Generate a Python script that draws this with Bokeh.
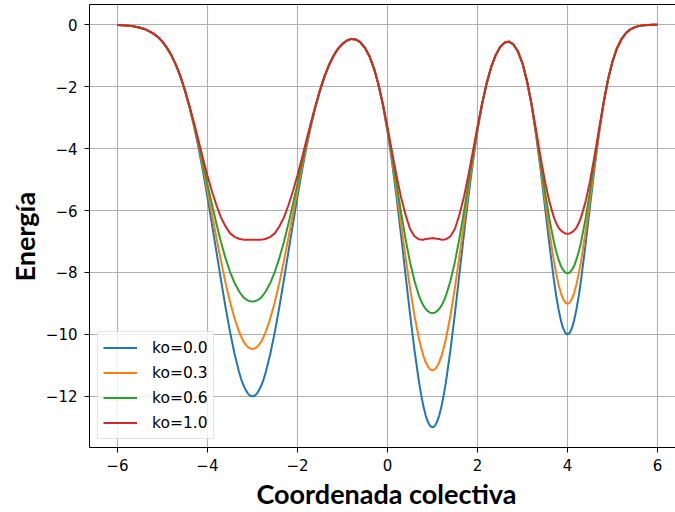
from bokeh.plotting import figure
from bokeh.models import (Range1d, FixedTicker, CustomJSTickFormatter, Legend, LegendItem,
                          LinearAxis, Title)
from bokeh.embed import file_html
from bokeh.resources import INLINE

# Collective coordinate: -6 .. 6 every 0.1, plus a few extra samples at the well bottoms
x_base = [round(-6 + i * 0.1, 1) for i in range(121)]
x_extra = [-3.25, -3.15, -3.05, -2.95, -2.85, -2.75,
           0.75, 0.85, 0.95, 1.05, 1.15, 1.25,
           3.75, 3.85, 3.95, 4.05, 4.15, 4.25]
x = sorted(x_base + x_extra)

ko_labels = ["ko=0.0", "ko=0.3", "ko=0.6", "ko=1.0"]

e_ko00 = [-0.01, -0.02, -0.03, -0.04, -0.07, -0.10, -0.14, -0.21, -0.29, -0.40,
          -0.55, -0.75, -0.99, -1.30, -1.67, -2.13, -2.66, -3.27, -3.96, -4.73,
          -5.56, -6.44, -7.33, -8.23, -9.10, -9.90, -10.61,
          -11.20, -11.44, -11.64, -11.79, -11.91, -11.98, -12.00, -11.98, -11.91, -11.79,
          -11.64, -11.44, -11.20,
          -10.61, -9.90, -9.10, -8.23, -7.33, -6.44, -5.56, -4.73, -3.96, -3.27,
          -2.66, -2.13, -1.68, -1.31, -1.01, -0.78, -0.62, -0.51, -0.46, -0.48,
          -0.57, -0.75, -1.02, -1.41, -1.93, -2.61, -3.44, -4.42, -5.54, -6.77,
          -8.05, -9.32, -10.50,
          -11.53, -11.96, -12.33, -12.62, -12.83, -12.96, -13.00, -12.96, -12.83, -12.62,
          -12.32, -11.96, -11.53,
          -10.50, -9.31, -8.04, -6.76, -5.54, -4.42, -3.43, -2.59, -1.92, -1.39,
          -1.00, -0.73, -0.58, -0.55, -0.64, -0.87, -1.25, -1.82, -2.58, -3.54,
          -4.65, -5.88, -7.12,
          -8.26, -8.76, -9.18, -9.53, -9.79, -9.95, -10.00, -9.95, -9.79, -9.53,
          -9.18, -8.76, -8.26,
          -7.11, -5.87, -4.65, -3.53, -2.56, -1.78, -1.19, -0.76, -0.47, -0.27,
          -0.15, -0.08, -0.04, -0.02, -0.01, -0.00, -0.00]

e_ko03 = [-0.01, -0.02, -0.03, -0.04, -0.07, -0.10, -0.14, -0.21, -0.29, -0.40,
          -0.55, -0.75, -0.99, -1.30, -1.67, -2.13, -2.65, -3.24, -3.89, -4.60,
          -5.35, -6.12, -6.88, -7.62, -8.32, -8.94, -9.47,
          -9.90, -10.07, -10.22, -10.33, -10.41, -10.45, -10.47, -10.45, -10.41, -10.33,
          -10.22, -10.07, -9.90,
          -9.47, -8.94, -8.32, -7.62, -6.88, -6.12, -5.35, -4.60, -3.89, -3.24,
          -2.65, -2.13, -1.68, -1.31, -1.01, -0.78, -0.62, -0.51, -0.46, -0.48,
          -0.57, -0.75, -1.02, -1.41, -1.93, -2.60, -3.40, -4.32, -5.34, -6.41,
          -7.47, -8.49, -9.39,
          -10.14, -10.44, -10.70, -10.90, -11.04, -11.13, -11.16, -11.13, -11.04, -10.90,
          -10.69, -10.44, -10.14,
          -9.39, -8.48, -7.47, -6.40, -5.33, -4.32, -3.39, -2.58, -1.92, -1.39,
          -1.00, -0.73, -0.58, -0.55, -0.64, -0.87, -1.25, -1.82, -2.57, -3.50,
          -4.53, -5.63, -6.70,
          -7.65, -8.04, -8.38, -8.65, -8.85, -8.97, -9.01, -8.97, -8.85, -8.65,
          -8.38, -8.04, -7.65,
          -6.70, -5.63, -4.53, -3.49, -2.55, -1.78, -1.19, -0.76, -0.47, -0.27,
          -0.15, -0.08, -0.04, -0.02, -0.01, -0.00, -0.00]

e_ko06 = [-0.01, -0.02, -0.03, -0.04, -0.07, -0.10, -0.14, -0.21, -0.29, -0.40,
          -0.55, -0.75, -0.99, -1.30, -1.67, -2.12, -2.64, -3.20, -3.82, -4.48,
          -5.15, -5.80, -6.43, -7.01, -7.53, -7.97, -8.33,
          -8.60, -8.71, -8.80, -8.86, -8.90, -8.93, -8.94, -8.93, -8.90, -8.86,
          -8.80, -8.71, -8.60,
          -8.33, -7.97, -7.53, -7.01, -6.43, -5.80, -5.15, -4.48, -3.82, -3.21,
          -2.64, -2.12, -1.68, -1.31, -1.01, -0.78, -0.62, -0.51, -0.46, -0.48,
          -0.57, -0.75, -1.02, -1.41, -1.93, -2.59, -3.36, -4.22, -5.13, -6.04,
          -6.90, -7.66, -8.27,
          -8.75, -8.93, -9.07, -9.18, -9.25, -9.30, -9.31, -9.30, -9.25, -9.18,
          -9.07, -8.93, -8.75,
          -8.27, -7.65, -6.89, -6.04, -5.13, -4.22, -3.35, -2.57, -1.92, -1.39,
          -1.00, -0.73, -0.58, -0.55, -0.64, -0.87, -1.25, -1.82, -2.56, -3.45,
          -4.42, -5.39, -6.29,
          -7.03, -7.33, -7.58, -7.78, -7.91, -8.00, -8.03, -8.00, -7.91, -7.78,
          -7.58, -7.33, -7.03,
          -6.28, -5.38, -4.41, -3.44, -2.54, -1.78, -1.19, -0.76, -0.47, -0.27,
          -0.15, -0.08, -0.04, -0.02, -0.01, -0.00, -0.00]

e_ko10 = [-0.01, -0.02, -0.03, -0.04, -0.07, -0.10, -0.14, -0.21, -0.29, -0.40,
          -0.55, -0.75, -0.99, -1.30, -1.67, -2.12, -2.62, -3.16, -3.73, -4.31,
          -4.87, -5.38, -5.83, -6.22, -6.51, -6.73, -6.85,
          -6.91, -6.93, -6.94, -6.94, -6.94, -6.94, -6.94, -6.94, -6.94, -6.94,
          -6.94, -6.93, -6.91,
          -6.85, -6.73, -6.51, -6.22, -5.83, -5.38, -4.87, -4.31, -3.73, -3.17,
          -2.62, -2.12, -1.68, -1.31, -1.01, -0.78, -0.62, -0.51, -0.46, -0.48,
          -0.57, -0.75, -1.02, -1.41, -1.93, -2.58, -3.31, -4.09, -4.86, -5.56,
          -6.13, -6.59, -6.83,
          -6.93, -6.94, -6.94, -6.92, -6.91, -6.90, -6.89, -6.90, -6.91, -6.92,
          -6.94, -6.94, -6.93,
          -6.83, -6.59, -6.13, -5.56, -4.85, -4.08, -3.30, -2.56, -1.92, -1.39,
          -1.00, -0.73, -0.58, -0.55, -0.64, -0.87, -1.25, -1.82, -2.55, -3.39,
          -4.26, -5.06, -5.73,
          -6.23, -6.41, -6.55, -6.64, -6.70, -6.74, -6.75, -6.74, -6.70, -6.64,
          -6.55, -6.41, -6.23,
          -5.73, -5.06, -4.25, -3.38, -2.53, -1.78, -1.19, -0.76, -0.47, -0.27,
          -0.15, -0.08, -0.04, -0.02, -0.01, -0.00, -0.00]

for s in (e_ko00, e_ko03, e_ko06, e_ko10):
    assert len(s) == len(x), (len(s), len(x))

x_ticks = [-6, -4, -2, 0, 2, 4, 6]
y_ticks = [0, -2, -4, -6, -8, -10, -12]

colors = ["#1f77b4", "#ff7f0e", "#2ca02c", "#d62728"]

p = figure(width=675, height=512, output_backend="svg", toolbar_location=None,
           x_range=Range1d(-6.62, 6.40), y_range=Range1d(-13.65, 0.65),
           min_border_left=89, min_border_right=0, min_border_top=4,
           min_border_bottom=65, background_fill_color="white",
           border_fill_color="white")
p.outline_line_color = None

minus_fmt = "return (tick < 0 ? '\\u2212' : '') + Math.abs(tick).toString();"

for ax, ticks in ((p.xaxis[0], x_ticks), (p.yaxis[0], y_ticks)):
    ax.ticker = FixedTicker(ticks=ticks)
    ax.formatter = CustomJSTickFormatter(code=minus_fmt)
    ax.major_label_text_font = "DejaVu Sans"
    ax.major_label_text_font_size = "15px"
    ax.major_label_text_color = "#000000"
    ax.major_tick_out = 5
    ax.major_tick_in = 0
    ax.minor_tick_out = 0
    ax.minor_tick_in = 0
    ax.major_tick_line_color = "#000000"
    ax.axis_line_color = "#000000"
    ax.axis_line_width = 1

p.xaxis[0].major_label_standoff = 6
p.yaxis[0].major_label_standoff = 7

top = LinearAxis(major_tick_out=0, major_tick_in=0, minor_tick_out=0, minor_tick_in=0,
                 major_label_text_font_size="0px", axis_line_color="#000000",
                 ticker=FixedTicker(ticks=[]))
p.add_layout(top, "above")

xlab = Title(text="Coordenada colectiva", align="left", offset=167,
             text_font="Lato", text_font_style="bold", text_font_size="27px",
             text_color="#000000", standoff=2)
ylab = Title(text="Energía", align="left", offset=166,
             text_font="Lato", text_font_style="bold", text_font_size="27px",
             text_color="#000000", standoff=4)
p.add_layout(xlab, "below")
p.add_layout(ylab, "left")

p.xgrid.ticker = FixedTicker(ticks=x_ticks)
p.ygrid.ticker = FixedTicker(ticks=y_ticks)
p.grid.grid_line_color = "#b0b0b0"
p.grid.grid_line_width = 1.1

items = []
for ys, c, lab in zip([e_ko00, e_ko03, e_ko06, e_ko10], colors, ko_labels):
    r = p.line(x, ys, line_color=c, line_width=2, line_join="round")
    items.append(LegendItem(label=lab, renderers=[r]))

legend = Legend(items=items, location=(8, 8), padding=5, spacing=4, margin=0,
                glyph_width=34, glyph_height=21, label_height=21, label_standoff=15,
                label_text_font="DejaVu Sans", label_text_font_size="15.5px",
                label_text_color="#000000",
                border_line_color="#cccccc", border_line_width=1,
                background_fill_color="white", background_fill_alpha=0.8)
p.add_layout(legend, "center")

open("out.html", "w").write(file_html(p, INLINE))
